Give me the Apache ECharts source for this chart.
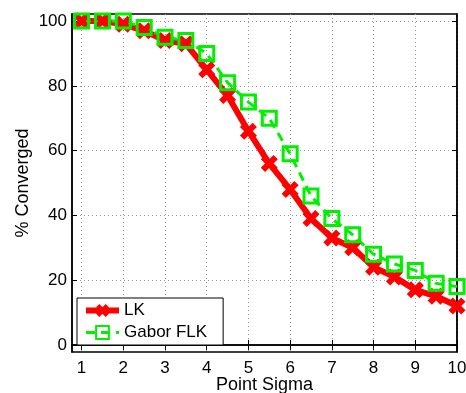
<!DOCTYPE html>
<html>
<head>
<meta charset="utf-8">
<script src="https://cdn.jsdelivr.net/npm/echarts@6/dist/echarts.min.js"></script>
<style>
  html, body { margin: 0; padding: 0; background: #fff; }
  #chart { width: 466px; height: 393px; }
</style>
</head>
<body>
<div id="chart"></div>
<script>
// x positions (point sigma) and the two series
const sigma = [1, 1.5, 2, 2.5, 3, 3.5, 4, 4.5, 5, 5.5, 6, 6.5, 7, 7.5, 8, 8.5, 9, 9.5, 10]
const lk    = [100, 100, 99, 97, 94, 93, 85, 77, 66, 56, 48, 39, 33, 30, 24, 21, 17, 15, 12]
const gabor = [100, 100, 100, 98, 95, 94, 90, 81, 75, 70, 59, 46, 39, 34, 28, 25, 23, 19, 18]
const xTicks = [1, 2, 3, 4, 5, 6, 7, 8, 9, 10]
const yTicks = [0, 20, 40, 60, 80, 100]

const FONT = 'Liberation Sans'
const TICK_LABEL = { color: '#000', fontSize: 17, fontFamily: FONT }
const NAME_LABEL = { color: '#000', fontSize: 18, fontFamily: FONT }
const GRID_LINE = { show: true, lineStyle: { color: '#999', type: [1, 3], width: 1 } }
const AXIS_LINE = { show: true, lineStyle: { color: '#000', width: 1.5 } }
const TICK = { inside: true, length: 5, lineStyle: { color: '#000' } }
// bold x marker
const CROSS = 'path://M0,5 L5,0 L10,5 L15,0 L20,5 L15,10 L20,15 L15,20 L10,15 L5,20 L0,15 L5,10 Z'

const X_RANGE = { min: 0.77, max: 10 }
const Y_RANGE = { min: -2.2, max: 102.2 }

const chart = echarts.init(document.getElementById('chart'))
chart.setOption({
  animation: false,
  grid: {
    left: 72, right: 9, top: 14, bottom: 41, outerBoundsMode: 'none',
    show: true, borderColor: '#000', borderWidth: 1.5
  },
  legend: {
    orient: 'vertical',
    left: 77, top: 298,
    padding: [4, 16, 4, 6],
    itemGap: 5,
    itemWidth: 33, itemHeight: 16,
    backgroundColor: '#fff',
    borderColor: '#000', borderWidth: 1,
    textStyle: TICK_LABEL,
    data: [
      { name: 'LK', lineStyle: { width: 6 } },
      { name: 'Gabor FLK', lineStyle: { width: 3 } }
    ]
  },
  xAxis: [{
    type: 'value', ...X_RANGE,
    name: 'Point Sigma', nameLocation: 'middle', nameGap: 24, nameMoveOverlap: false,
    nameTextStyle: NAME_LABEL,
    axisLine: AXIS_LINE,
    axisTick: { ...TICK, customValues: xTicks },
    axisLabel: { ...TICK_LABEL, margin: 8, customValues: xTicks },
    splitLine: GRID_LINE
  }, {
    type: 'value', ...X_RANGE, position: 'top',
    axisLine: AXIS_LINE,
    axisTick: { ...TICK, customValues: xTicks },
    axisLabel: { show: false },
    splitLine: { show: false }
  }],
  yAxis: [{
    type: 'value', ...Y_RANGE,
    name: '% Converged', nameLocation: 'middle', nameGap: 40, nameRotate: 90, nameMoveOverlap: false,
    nameTextStyle: NAME_LABEL,
    axisLine: AXIS_LINE,
    axisTick: { ...TICK, customValues: yTicks },
    axisLabel: { ...TICK_LABEL, margin: 5, customValues: yTicks },
    splitLine: GRID_LINE
  }, {
    type: 'value', ...Y_RANGE, position: 'right',
    axisLine: AXIS_LINE,
    axisTick: { ...TICK, customValues: yTicks },
    axisLabel: { show: false },
    splitLine: { show: false }
  }],
  series: [{
    name: 'LK',
    type: 'line',
    data: sigma.map((x, i) => [x, lk[i]]),
    symbol: CROSS,
    symbolSize: 17,
    lineStyle: { color: '#ff0000', width: 6 },
    itemStyle: { color: '#ff0000' }
  }, {
    name: 'Gabor FLK',
    type: 'line',
    data: sigma.map((x, i) => [x, gabor[i]]),
    symbol: 'rect',
    symbolSize: 14,
    lineStyle: { color: '#00f000', width: 3, type: [9, 6] },
    itemStyle: { color: 'rgba(0,0,0,0)', borderColor: '#00f000', borderWidth: 3 }
  }]
})
</script>
</body>
</html>
